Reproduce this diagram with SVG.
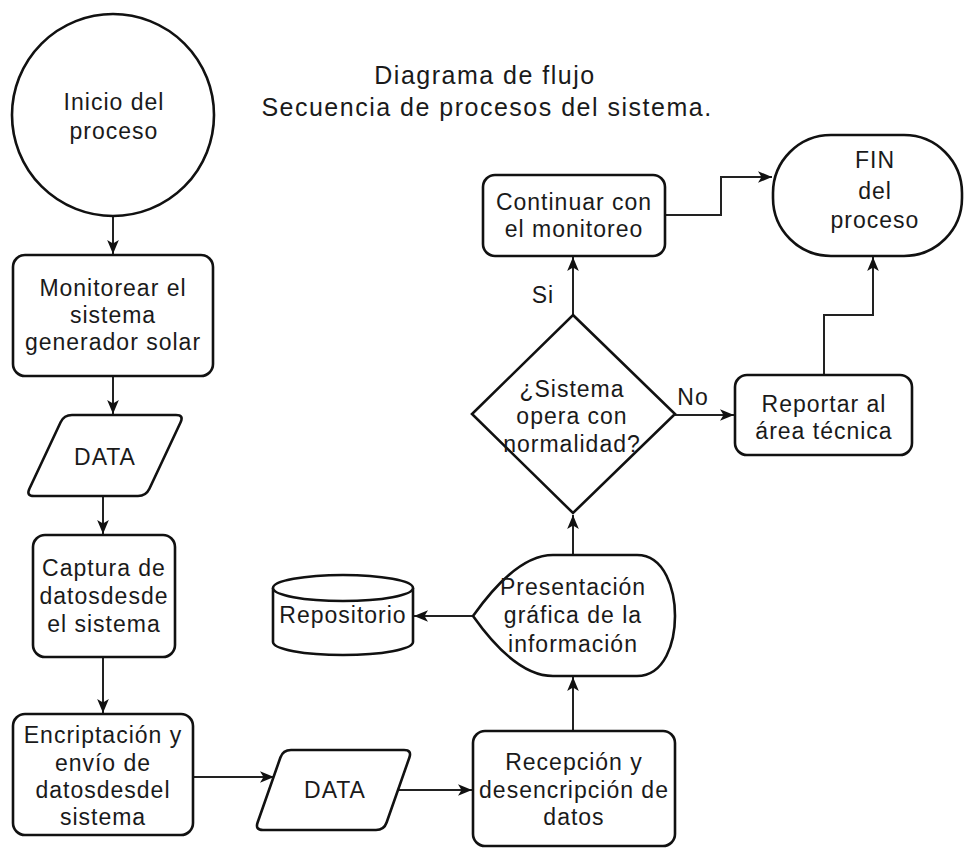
<svg xmlns="http://www.w3.org/2000/svg" width="965" height="849" viewBox="0 0 965 849">
<style>
.s{fill:#fff;stroke:#111;stroke-width:2.6}
.t{font-family:"Liberation Sans",Arial,sans-serif;font-size:23px;letter-spacing:1px;fill:#1a1a1a;text-anchor:middle}
.ti{font-size:25px;letter-spacing:1.5px}
.c{fill:none;stroke:#222;stroke-width:2}
</style>
<defs>
<marker id="ah" viewBox="0 0 12 12" refX="12" refY="6" markerWidth="14" markerHeight="14" orient="auto" markerUnits="userSpaceOnUse">
<path d="M0,1 L12,6 L0,11 L3,6 Z" fill="#111"/>
</marker>
</defs>
<g id="title">
<text class="t ti" x="485" y="84">Diagrama de flujo</text>
<text class="t ti" x="487" y="116">Secuencia de procesos del sistema.</text>
</g>
<g id="connectors">
<path class="c" d="M113,216 L113,254" marker-end="url(#ah)"/>
<path class="c" d="M113,376 L113,414" marker-end="url(#ah)"/>
<path class="c" d="M103,496 L103,534" marker-end="url(#ah)"/>
<path class="c" d="M103,657 L103,713" marker-end="url(#ah)"/>
<path class="c" d="M193,777 L274,777" marker-end="url(#ah)"/>
<path class="c" d="M398,790 L472,790" marker-end="url(#ah)"/>
<path class="c" d="M573,731 L573,677" marker-end="url(#ah)"/>
<path class="c" d="M473,616 L414,616" marker-end="url(#ah)"/>
<path class="c" d="M573,555 L573,515" marker-end="url(#ah)"/>
<path class="c" d="M573,315 L573,257" marker-end="url(#ah)"/>
<path class="c" d="M675,415 L734,415" marker-end="url(#ah)"/>
<path class="c" d="M824,375 L824,315 L873,315 L873,257" marker-end="url(#ah)"/>
<path class="c" d="M665,215 L721,215 L721,177 L772,177" marker-end="url(#ah)"/>
<text class="t" x="543" y="303">Si</text>
<text class="t" x="693" y="405">No</text>
</g>
<g id="inicio">
<circle class="s" cx="113" cy="115" r="101"/>
<text class="t" x="114" y="110">Inicio del</text>
<text class="t" x="114" y="139">proceso</text>
</g>
<g id="monitorear">
<rect class="s" x="13" y="255" width="200" height="121" rx="12"/>
<text class="t" x="113" y="296">Monitorear el</text>
<text class="t" x="113" y="323">sistema</text>
<text class="t" x="113" y="350">generador solar</text>
</g>
<g id="data1">
<path class="s" d="M72,415 L176,415 Q184,415 180.6,422.2 L149.4,488.8 Q146,496 138,496 L34,496 Q26,496 29.4,488.8 L60.6,422.2 Q64,415 72,415 Z"/>
<text class="t" x="105" y="465">DATA</text>
</g>
<g id="captura">
<rect class="s" x="33" y="535" width="142" height="122" rx="12"/>
<text class="t" x="104" y="576">Captura de</text>
<text class="t" x="104" y="604">datosdesde</text>
<text class="t" x="104" y="632">el sistema</text>
</g>
<g id="encriptacion">
<rect class="s" x="13" y="714" width="180" height="121" rx="12"/>
<text class="t" x="103" y="743">Encriptación y</text>
<text class="t" x="103" y="771">envío de</text>
<text class="t" x="103" y="798">datosdesdel</text>
<text class="t" x="103" y="825">sistema</text>
</g>
<g id="data2">
<path class="s" d="M291,750 L404,750 Q412,750 409.4,757.5 L386.6,822.5 Q384,830 376,830 L263,830 Q255,830 257.6,822.5 L280.4,757.5 Q283,750 291,750 Z"/>
<text class="t" x="335" y="798">DATA</text>
</g>
<g id="recepcion">
<rect class="s" x="473" y="731" width="202" height="115" rx="12"/>
<text class="t" x="574" y="770">Recepción y</text>
<text class="t" x="574" y="798">desencripción de</text>
<text class="t" x="574" y="825">datos</text>
</g>
<g id="presentacion">
<path class="s" d="M553,555 L637,555 C665,555 675,590 675,616 C675,642 665,676 637,676 L553,676 C520,676 490,640 473,616 C490,592 520,555 553,555 Z"/>
<text class="t" x="573" y="595">Presentación</text>
<text class="t" x="573" y="623">gráfica de la</text>
<text class="t" x="573" y="652">información</text>
</g>
<g id="repositorio">
<path class="s" d="M273,588 A70,13 0 0 1 413,588 L413,642 A70,13 0 0 1 273,642 Z"/>
<path class="s" d="M273,588 A70,13 0 0 0 413,588" fill="none"/>
<text class="t" x="343" y="623">Repositorio</text>
</g>
<g id="decision">
<path class="s" d="M573,315 L675,414 L573,513 L472,414 Z"/>
<text class="t" x="572" y="397">¿Sistema</text>
<text class="t" x="572" y="424">opera con</text>
<text class="t" x="572" y="452">normalidad?</text>
</g>
<g id="continuar">
<rect class="s" x="483" y="175" width="182" height="81" rx="12"/>
<text class="t" x="574" y="210">Continuar con</text>
<text class="t" x="574" y="237">el monitoreo</text>
</g>
<g id="fin">
<rect class="s" x="773" y="135" width="189" height="121" rx="58" ry="58"/>
<text class="t" x="875" y="168">FIN</text>
<text class="t" x="875" y="199">del</text>
<text class="t" x="875" y="228">proceso</text>
</g>
<g id="reportar">
<rect class="s" x="735" y="375" width="177" height="80" rx="12"/>
<text class="t" x="824" y="412">Reportar al</text>
<text class="t" x="824" y="439">área técnica</text>
</g>
</svg>
